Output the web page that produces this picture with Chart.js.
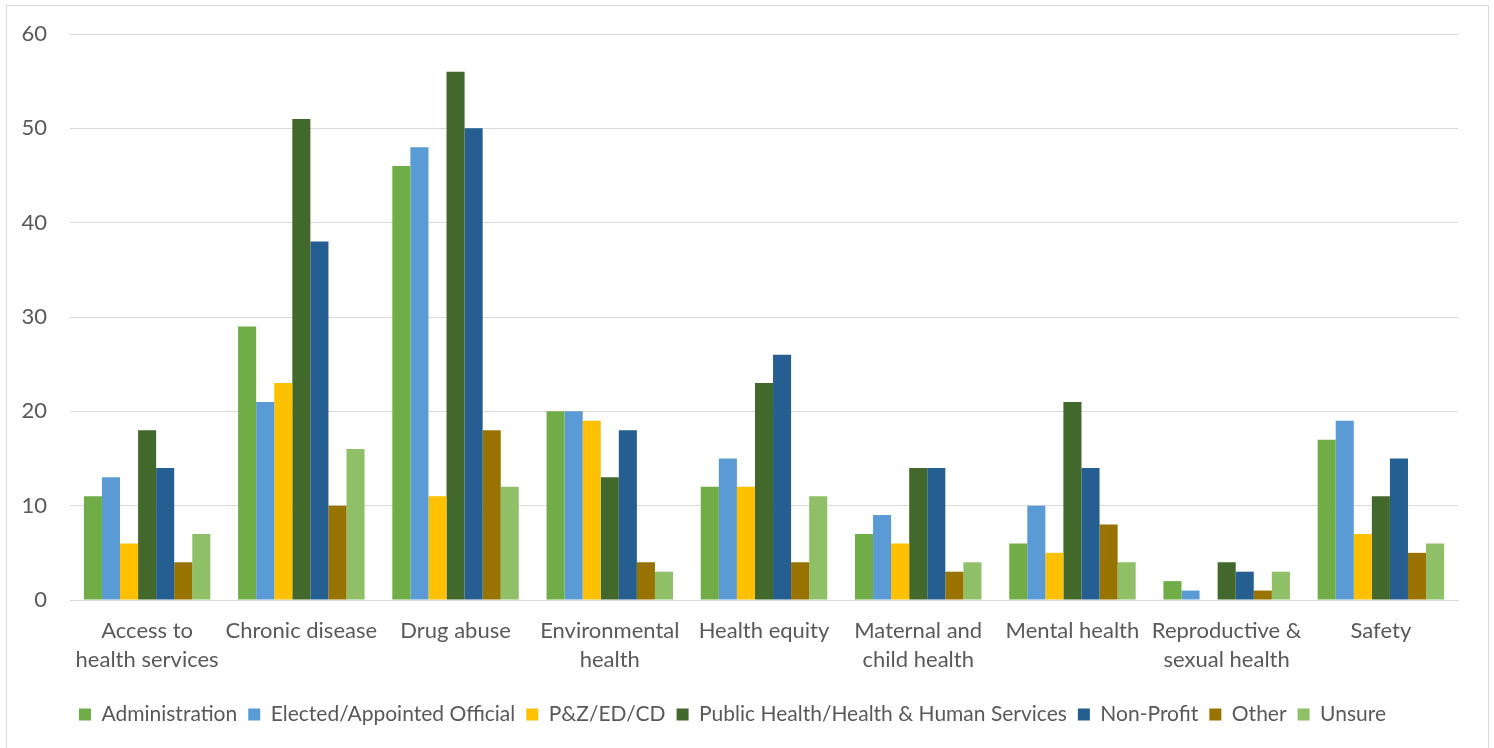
<!DOCTYPE html>
<html>
<head>
<meta charset="utf-8">
<script src="https://cdn.jsdelivr.net/npm/chart.js@4.4.1/dist/chart.umd.min.js"></script>
<style>
 html, body { margin: 0; padding: 0; background: #fff; }
 #box {
  position: absolute; left: 6px; top: 5px;
  width: 1483px; height: 745px;
  box-sizing: border-box; border: 1px solid #d9d9d9;
 }
 canvas { display: block; }
</style>
</head>
<body>
<div id="box"><canvas id="topicChart" width="1481" height="743"></canvas></div>
<script>
const categories = [
 ['Access to', 'health services'],
 'Chronic disease',
 'Drug abuse',
 ['Environmental', 'health'],
 'Health equity',
 ['Maternal and', 'child health'],
 'Mental health',
 ['Reproductive &', 'sexual health'],
 'Safety'
];
const administration = [11, 29, 46, 20, 12, 7, 6, 2, 17];
const electedOfficial = [13, 21, 48, 20, 15, 9, 10, 1, 19];
const planningZoning = [6, 23, 11, 19, 12, 6, 5, 0, 7];
const publicHealth = [18, 51, 56, 13, 23, 14, 21, 4, 11];
const nonProfit = [14, 38, 50, 18, 26, 14, 14, 3, 15];
const other = [4, 10, 18, 4, 4, 3, 8, 1, 5];
const unsure = [7, 16, 12, 3, 11, 4, 4, 3, 6];
const yTicks = [0, 10, 20, 30, 40, 50, 60];

const font = 'Lato';
const textColor = '#595959';

function series(label, data, color) {
 return { label: label, data: data, backgroundColor: color, borderWidth: 0 };
}

// keep the plot box where the original has it, labels may overhang
function noOverhang(scale) {
 scale.paddingTop = 0;
 scale.paddingBottom = 0;
 scale.paddingLeft = 0;
 scale.paddingRight = 0;
}

let topicChart = document.getElementById('topicChart').getContext('2d');
let chart1 = new Chart(topicChart, {
 type: 'bar',
 data: {
  labels: categories,
  datasets: [
   series('Administration', administration, '#70ad47'),
   series('Elected/Appointed Official', electedOfficial, '#5b9bd5'),
   series('P&Z/ED/CD', planningZoning, '#ffc000'),
   series('Public Health/Health & Human Services', publicHealth, '#43682b'),
   series('Non-Profit', nonProfit, '#255e91'),
   series('Other', other, '#997300'),
   series('Unsure', unsure, '#8fc067')
  ]
 },
 options: {
  responsive: false,
  animation: false,
  layout: { padding: { left: 0, right: 30, top: 28, bottom: 14 } },
  datasets: { bar: { categoryPercentage: 0.82, barPercentage: 1 } },
  plugins: {
   tooltip: { enabled: false },
   legend: {
    position: 'bottom',
    labels: {
     boxWidth: 12,
     boxHeight: 12,
     padding: 11,
     color: textColor,
     font: { family: font, size: 21 }
    }
   }
  },
  scales: {
   x: {
    grid: { display: false, drawTicks: false },
    border: { color: '#d9d9d9', width: 1 },
    ticks: {
     color: textColor,
     padding: 16,
     maxRotation: 0,
     autoSkip: false,
     font: { family: font, size: 22, lineHeight: 1.32 }
    },
    afterFit: function (scale) { scale.height = 93; noOverhang(scale); }
   },
   y: {
    min: 0,
    max: 60,
    afterBuildTicks: function (scale) {
     scale.ticks = yTicks.map(function (v) { return { value: v }; });
    },
    grid: { color: '#d9d9d9', lineWidth: 1, drawTicks: false },
    border: { display: false },
    ticks: {
     color: textColor,
     padding: 23,
     font: { family: font, size: 22 }
    },
    afterFit: function (scale) { scale.width = 63; noOverhang(scale); }
   }
  }
 }
});
</script>
</body>
</html>
